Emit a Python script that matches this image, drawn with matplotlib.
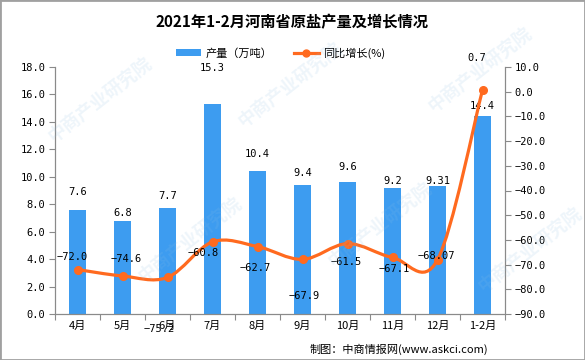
import numpy as np
import matplotlib.pyplot as plt
from matplotlib.path import Path
from matplotlib.patches import PathPatch, Rectangle, Patch
from matplotlib.lines import Line2D

plt.rcParams['font.family'] = ['Noto Sans CJK SC', 'DejaVu Sans']
plt.rcParams['axes.unicode_minus'] = True

# data
months = ['4月', '5月', '6月', '7月', '8月', '9月', '10月', '11月', '12月', '1-2月']
output = [7.6, 6.8, 7.7, 15.3, 10.4, 9.4, 9.6, 9.2, 9.31, 14.4]
output_labels = ['7.6', '6.8', '7.7', '15.3', '10.4', '9.4', '9.6', '9.2', '9.31', '14.4']
growth = [-72.0, -74.6, -75.2, -60.8, -62.7, -67.9, -61.5, -67.1, -68.07, 0.7]
growth_labels = ['-72.0', '-74.6', '-75.2', '-60.8', '-62.7', '-67.9', '-61.5', '-67.1', '-68.07', '0.7']

# label placement (pixels from the mark)
bar_lbl_dy = [18, 8, 12, 36, 17, 12, 15, 7, 5, 10]
line_lbl_off = [(-5, 13), (4, 17), (-8, -52), (-9, -11), (-2, -21),
                (2, -37), (-1, -18), (2, -12), (-1, 4), (-6, 32)]

BLUE = '#3d9cf0'
ORANGE = '#ff6a1f'
GREY = '#8a8a8a'
num_font = 'DejaVu Sans Mono'

fig = plt.figure(figsize=(5.85, 3.6), dpi=100)
ax = fig.add_axes([55 / 585, 46 / 360, 450 / 585, 247 / 360])
ax2 = ax.twinx()

x = np.arange(len(months))
ax.bar(x, output, width=0.38, color=BLUE, zorder=2)
ax.set_xlim(-0.5, len(months) - 0.5)
ax.set_ylim(0, 18)
ax.set_yticks(np.arange(0, 18.1, 2))
ax.set_yticklabels(['%.1f' % v for v in np.arange(0, 18.1, 2)], fontfamily=num_font, fontsize=7.5)
ax.set_xticks(np.arange(-0.5, len(months), 1))
ax.set_xticklabels([])
ax.set_xticks(x, minor=True)
ax.set_xticklabels(months, minor=True, fontsize=8)
ax.tick_params(axis='x', which='major', length=4, color=GREY)
ax.tick_params(axis='x', which='minor', length=0, pad=5)
ax.tick_params(axis='y', length=4, color=GREY, pad=3)

for i, v in enumerate(output):
    ax.annotate(output_labels[i], (x[i], v), xytext=(0, bar_lbl_dy[i]),
                textcoords='offset pixels', ha='center', va='center',
                fontfamily=num_font, fontsize=7.5)

# smooth line (catmull-rom as cubic bezier)
pts = np.column_stack([x, growth]).astype(float)
verts = [pts[0]]
codes = [Path.MOVETO]
n = len(pts)
for i in range(n - 1):
    p0 = pts[max(i - 1, 0)]
    p1 = pts[i]
    p2 = pts[i + 1]
    p3 = pts[min(i + 2, n - 1)]
    c1 = p1 + (p2 - p0) / 6.0
    c2 = p2 - (p3 - p1) / 6.0
    verts += [c1, c2, p2]
    codes += [Path.CURVE4] * 3
ax2.add_patch(PathPatch(Path(verts, codes), fill=False, edgecolor=ORANGE, lw=2.3, zorder=3))
ax2.plot(x, growth, 'o', color=ORANGE, ms=5.5, zorder=4)
ax2.set_ylim(-90, 10)
ax2.set_yticks(np.arange(-90, 10.1, 10))
ax2.set_yticklabels([('%.1f' % v).replace('-', '\u2212') for v in np.arange(-90, 10.1, 10)],
                    fontfamily=num_font, fontsize=7.5)
ax2.tick_params(axis='y', length=4, color=GREY, pad=3)

for i, v in enumerate(growth):
    dx, dy = line_lbl_off[i]
    ax2.annotate(growth_labels[i].replace('-', '\u2212'), (x[i], v), xytext=(dx, dy),
                 textcoords='offset pixels', ha='center', va='center',
                 fontfamily=num_font, fontsize=7.5, zorder=5)

for a in (ax, ax2):
    a.spines['top'].set_visible(False)
    for s in ('left', 'right', 'bottom'):
        a.spines[s].set_color(GREY)
ax.set_zorder(1)
ax2.set_zorder(2)
ax.patch.set_visible(False)
ax2.patch.set_visible(False)

fig.text(0.5, 1 - 22 / 360, '2021年1-2月河南省原盐产量及增长情况', ha='center', va='center',
         fontsize=11, fontweight='bold')

handles = [Patch(facecolor=BLUE, edgecolor='none'),
           Line2D([], [], color=ORANGE, lw=2.3, marker='o', ms=5)]
fig.legend(handles, ['产量（万吨）', '同比增长(%)'], loc='center', ncol=2,
           bbox_to_anchor=(0.48, 1 - 53 / 360), frameon=False, fontsize=8,
           handlelength=2.2, handleheight=0.6, columnspacing=2.0, handletextpad=0.4)

fig.text(488 / 585, 1 - 349 / 360, '制图：中商情报网(www.askci.com)', ha='right', va='center', fontsize=8)

# faint watermark
for cx, cy in [(100, 100), (290, 85), (480, 70), (190, 240), (380, 225), (530, 250)]:
    fig.text(cx / 585, 1 - cy / 360, '中商产业研究院', rotation=38, ha='center', va='center',
             fontsize=13, fontweight='bold', color='#8fbfe3', alpha=0.15, zorder=10)

fig.patches.append(Rectangle((0, 0), 1, 1, transform=fig.transFigure, fill=False,
                             edgecolor='#a0a0a0', lw=2))

fig.savefig('out.png', dpi=100)
